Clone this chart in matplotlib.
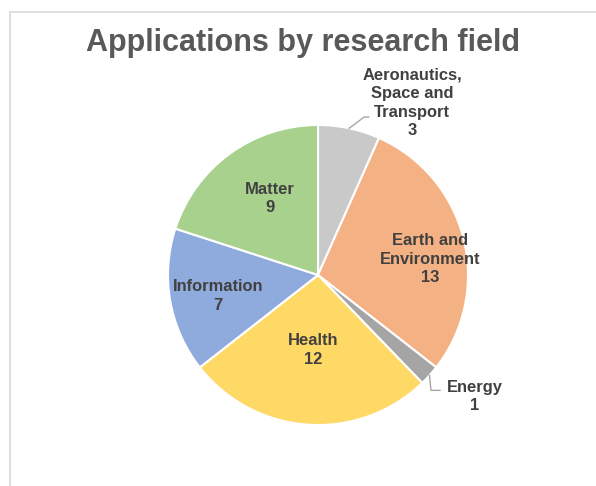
import numpy as np
import matplotlib.pyplot as plt
from matplotlib.patches import Rectangle

fields = ['Aeronautics,\nSpace and\nTransport', 'Earth and\nEnvironment', 'Energy',
          'Health', 'Information', 'Matter']
counts = [3, 13, 1, 12, 7, 9]
colors = ['#C9C9C9', '#F4B183', '#A5A5A5', '#FFD966', '#8FAADC', '#A9D18E']

plt.rcParams['font.family'] = ['Liberation Sans', 'DejaVu Sans']

W, H = 596, 486
fig = plt.figure(figsize=(W / 100, H / 100), dpi=100)

# light frame around the chart area (right/bottom edges run off the picture)
fig.add_artist(Rectangle((10 / W, -0.1), 1.2, (H - 12) / H + 0.1,
                         transform=fig.transFigure, fill=False,
                         edgecolor='#D9D9D9', linewidth=1.2))

fig.text(303 / W, 1 - 43 / H, 'Applications by research field', ha='center', va='center',
         fontsize=22, fontweight='bold', color='#595959')

cx, cy, r = 318, 275, 150
ax = fig.add_axes([(cx - r) / W, (H - cy - r) / H, 2 * r / W, 2 * r / H])
wedges, _ = ax.pie(counts, colors=colors, startangle=90, counterclock=False,
                   wedgeprops=dict(edgecolor='white', linewidth=1.5))
ax.set_xlim(-1, 1)
ax.set_ylim(-1, 1)
ax.set_aspect('equal')
ax.axis('off')

lab_kw = dict(ha='center', va='center', fontsize=11.9, fontweight='bold',
              color='#404040', linespacing=1.3)
# (distance from centre, angle shift in degrees) for labels inside the wedges
inside = {1: (0.755, -6), 3: (0.5, 0), 4: (0.68, 2), 5: (0.6, -4)}
for i, w in enumerate(wedges):
    mid_deg = (w.theta1 + w.theta2) / 2
    text = f'{fields[i]}\n{counts[i]}'
    if i in inside:
        d, shift = inside[i]
        a = np.deg2rad(mid_deg + shift)
        ax.text(d * np.cos(a), d * np.sin(a), text, **lab_kw)
    else:
        a = np.deg2rad(mid_deg)
        x0, y0 = np.cos(a), np.sin(a)
        if i == 0:
            # leader up and to the right
            pts = [(x0, y0), (x0 + 0.1, y0 + 0.075), (x0 + 0.13, y0 + 0.075)]
            ax.plot(*zip(*pts), color='#A6A6A6', lw=1, clip_on=False)
            ax.text(x0 + 0.42, y0 + 0.17, text, **lab_kw)
        else:
            pts = [(x0, y0), (x0 + 0.01, y0 - 0.1), (x0 + 0.07, y0 - 0.1)]
            ax.plot(*zip(*pts), color='#A6A6A6', lw=1, clip_on=False)
            ax.text(x0 + 0.3, y0 - 0.14, text, **lab_kw)

fig.savefig('out.png', dpi=100)
